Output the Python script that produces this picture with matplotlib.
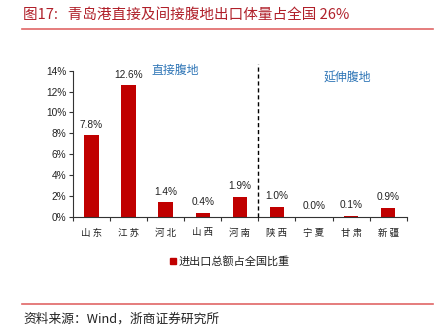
import matplotlib
matplotlib.use("Agg")
import matplotlib.pyplot as plt
from matplotlib.lines import Line2D

plt.rcParams['font.family'] = ['Liberation Sans', 'Noto Sans CJK SC', 'DejaVu Sans']

provinces = ["山东", "江苏", "河北", "山西", "河南", "陕西", "宁夏", "甘肃", "新疆"]
share = [7.8, 12.6, 1.4, 0.4, 1.9, 1.0, 0.0, 0.1, 0.9]
yticks = [0, 2, 4, 6, 8, 10, 12, 14]
series_name = "进出口总额占全国比重"
title = "图17:   青岛港直接及间接腹地出口体量占全国 26%"
source = "资料来源：Wind，浙商证券研究所"

bar_color = "#C00000"
cjk = ['Noto Sans CJK SC', 'DejaVu Sans']

fig = plt.figure(figsize=(4.4, 3.32), dpi=100)
ax = fig.add_axes([73 / 440, 1 - 217 / 332, (406.7 - 73) / 440, (217 - 70.7) / 332])

x = list(range(len(provinces)))
ax.bar(x, share, width=0.39, color=bar_color, zorder=2)
for xi, v in zip(x, share):
    ax.text(xi, v + 0.55, f"{v:.1f}%", ha="center", va="bottom", fontsize=7.3, color="#222222")

ax.set_xlim(-0.5, len(provinces) - 0.5)
ax.set_ylim(0, 14)
ax.set_yticks(yticks)
ax.set_yticklabels([f"{t}%" for t in yticks], fontsize=7.3, color="#222222")
ax.set_xticks([i + 0.5 for i in range(-1, len(provinces))], minor=False)
ax.set_xticklabels([])
ax.tick_params(axis="x", length=3, width=0.8, color="#333333")
ax.tick_params(axis="y", length=3, width=0.8, color="#333333", pad=2)
for i, name in enumerate(provinces):
    ax.text(i, -1.1, " ".join(name), ha="center", va="top", fontsize=6.8,
            family=cjk, color="#222222")

for s in ["top", "right"]:
    ax.spines[s].set_visible(False)
for s in ["left", "bottom"]:
    ax.spines[s].set_color("#333333")
    ax.spines[s].set_linewidth(0.8)

# divider between direct and extended hinterland
ax.add_line(Line2D([4.5, 4.5], [0, 14.6], color="black", lw=1.0, ls=(0, (3, 2)),
                   clip_on=False, zorder=3))
ax.text(2.25, 14.0, "直接腹地", ha="center", va="center", fontsize=8.6,
        family=cjk, color="#2E75B6")
ax.text(6.9, 13.25, "延伸腹地", ha="center", va="center", fontsize=8.6,
        family=cjk, color="#2E75B6")

# legend
fig.patches.append(plt.Rectangle((170 / 440, 1 - 264 / 332), 6 / 440, 6 / 332,
                                 transform=fig.transFigure, color=bar_color))
fig.text(179 / 440, 1 - 261 / 332, series_name, fontsize=8, family=cjk,
         va="center", ha="left", color="#222222")

# header and footer
fig.text(23 / 440, 1 - 15 / 332, title, fontsize=10.5, family=['Noto Sans CJK SC', 'DejaVu Sans'],
         color="#B0202A", va="center", ha="left")
fig.add_artist(Line2D([22 / 440, 433 / 440], [1 - 29 / 332] * 2, color="#E06666", lw=1.2))
fig.add_artist(Line2D([22 / 440, 433 / 440], [1 - 304 / 332] * 2, color="#E06666", lw=1.2))
fig.text(23 / 440, 1 - 319 / 332, source, fontsize=9.2, family=cjk,
         color="#222222", va="center", ha="left")

fig.savefig("out.png", dpi=100)
